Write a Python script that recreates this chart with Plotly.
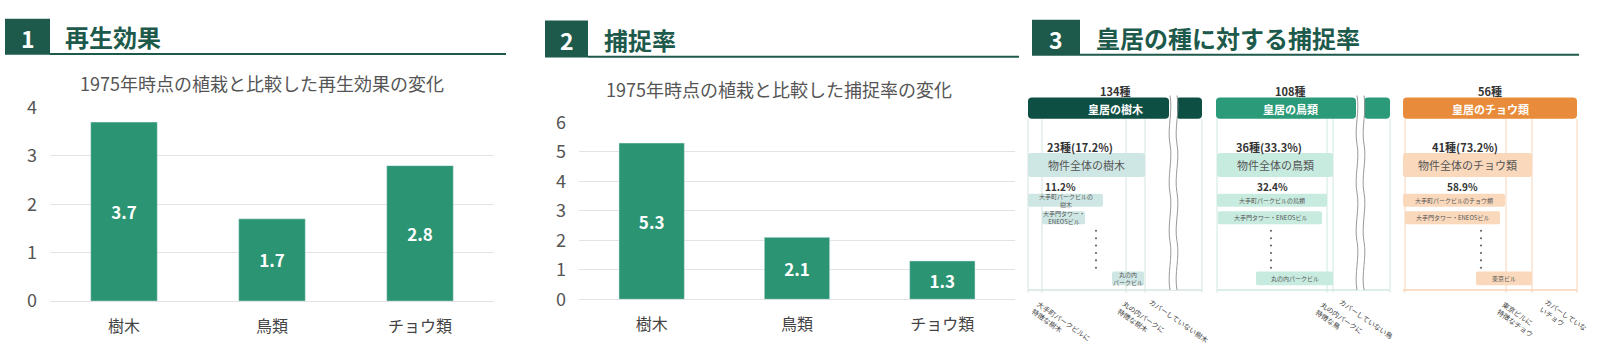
import plotly.graph_objects as go

# ---------------- data ----------------
categories = ["樹木", "鳥類", "チョウ類"]
regen_values = [3.7, 1.7, 2.8]
capture_values = [5.3, 2.1, 1.3]
regen_ticks = [0, 1, 2, 3, 4]
capture_ticks = [0, 1, 2, 3, 4, 5, 6]

panel_numbers = ["1", "2", "3"]
panel_titles = ["再生効果", "捕捉率", "皇居の種に対する捕捉率"]
subtitles = ["1975年時点の植栽と比較した再生効果の変化",
             "1975年時点の植栽と比較した捕捉率の変化"]

# infographic (panel 3) texts
group_names = ["皇居の樹木", "皇居の鳥類", "皇居のチョウ類"]
group_totals = ["134種", "108種", "56種"]
covered_counts = ["23種(17.2%)", "36種(33.3%)", "41種(73.2%)"]
overall_labels = ["物件全体の樹木", "物件全体の鳥類", "物件全体のチョウ類"]
best_building_pct = ["11.2%", "32.4%", "58.9%"]
row1_labels = ["大手町パークビルの<br>樹木", "大手町パークビルの鳥類", "大手町パークビルのチョウ類"]
row2_labels = ["大手門タワー・<br>ENEOSビル", "大手門タワー・ENEOSビル", "大手門タワー・ENEOSビル"]
row3_labels = ["丸の内<br>パークビル", "丸の内パークビル", "東京ビル"]
bottom_labels = [
    ["大手町パークビルに<br>特徴な樹木", "丸の内パークに<br>特徴な樹木", "カバーしていない樹木"],
    ["丸の内パークに<br>特徴な鳥", "カバーしていない鳥"],
    ["東京ビルに<br>特徴なチョウ", "カバーしていな<br>いチョウ"],
]

# ---------------- layout helpers ----------------
W, H = 1597, 351
FONT = "Noto Sans CJK JP"
BAR = "#2a9473"
DARK = "#1d5a4b"


def px(x):
    return x / W


def py(y):
    return 1 - y / H


def rrect_path(x0, y0, x1, y1, r):
    pts = [("M", x0 + r, y0), ("L", x1 - r, y0), ("Q", x1, y0, x1, y0 + r),
           ("L", x1, y1 - r), ("Q", x1, y1, x1 - r, y1), ("L", x0 + r, y1),
           ("Q", x0, y1, x0, y1 - r), ("L", x0, y0 + r), ("Q", x0, y0, x0 + r, y0)]
    s = ""
    for p in pts:
        cmd = p[0]
        coords = p[1:]
        parts = []
        for i in range(0, len(coords), 2):
            parts.append(f"{px(coords[i]):.5f},{py(coords[i+1]):.5f}")
        s += cmd + " ".join(parts) + " "
    return s + "Z"


shapes = []
annotations = []


def rbox(x0, y0, x1, y1, color, r=3):
    shapes.append(dict(type="path", xref="paper", yref="paper",
                       path=rrect_path(x0, y0, x1, y1, r),
                       fillcolor=color, line=dict(width=0), layer="above"))


def vline(x, y0, y1, color, width=1):
    shapes.append(dict(type="line", xref="paper", yref="paper",
                       x0=px(x), x1=px(x), y0=py(y0), y1=py(y1),
                       line=dict(color=color, width=width), layer="below"))


def hline(x0, x1, y, color, width=1, layer="above"):
    shapes.append(dict(type="line", xref="paper", yref="paper",
                       x0=px(x0), x1=px(x1), y0=py(y), y1=py(y),
                       line=dict(color=color, width=width), layer=layer))


def text(x, y, s, size, color, xanchor="center", yanchor="middle", weight="normal", angle=0, align="center"):
    annotations.append(dict(xref="paper", yref="paper", x=px(x), y=py(y), text=s,
                            showarrow=False, xanchor=xanchor, yanchor=yanchor,
                            textangle=angle, align=align,
                            font=dict(family=FONT, size=size, color=color, weight=weight)))


def wavy(x, y0, y1, color):
    n = 4
    step = (y1 - y0) / n
    s = f"M{px(x):.5f},{py(y0):.5f} "
    for i in range(n):
        ya = y0 + i * step
        s += (f"C{px(x + 3):.5f},{py(ya + step * 0.33):.5f} "
              f"{px(x - 3):.5f},{py(ya + step * 0.66):.5f} "
              f"{px(x):.5f},{py(ya + step):.5f} ")
    shapes.append(dict(type="path", xref="paper", yref="paper", path=s,
                       line=dict(color=color, width=1), layer="above"))


# ---------------- panel headers ----------------
headers = [  # box x0,x1,y0,y1, title x, underline end
    (5, 50, 4, 43, 63, 506),
    (545, 588, 6, 46, 602, 1019),
    (1032, 1080, 5, 44, 1094, 1579),
]
for (bx0, bx1, by0, by1, tx, ux1), num, title in zip(headers, panel_numbers, panel_titles):
    shapes.append(dict(type="rect", xref="paper", yref="paper", x0=px(bx0), x1=px(bx1),
                       y0=py(by1), y1=py(by0), fillcolor=DARK, line=dict(width=0)))
    hline(bx1, ux1, by1 - 1, DARK, width=2)
    text((bx0 + bx1) / 2, (by0 + by1) / 2 + 1, num, 23, "white", weight="bold")
    text(tx, (by0 + by1) / 2, title, 24, DARK, xanchor="left", weight="bold")

text(262, 73, subtitles[0], 18, "#555555")
text(779, 80, subtitles[1], 18, "#555555")

# ---------------- bar charts ----------------
fig = go.Figure()
fig.add_trace(go.Bar(x=categories, y=regen_values, marker_color=BAR, width=0.45,
                     text=[f"{v:.1f}" for v in regen_values], textposition="inside",
                     insidetextanchor="middle",
                     textfont=dict(family=FONT, size=17, color="white", weight="bold"),
                     xaxis="x", yaxis="y", showlegend=False, hoverinfo="skip"))
fig.add_trace(go.Bar(x=categories, y=capture_values, marker_color=BAR, width=0.45,
                     text=[f"{v:.1f}" for v in capture_values], textposition="inside",
                     insidetextanchor="middle",
                     textfont=dict(family=FONT, size=17, color="white", weight="bold"),
                     xaxis="x2", yaxis="y2", showlegend=False, hoverinfo="skip"))

xcommon = dict(showgrid=False, showline=False, zeroline=False, ticks="",
               tickfont=dict(family=FONT, size=16, color="#444444"), ticklabelstandoff=14)
ycommon = dict(showgrid=True, gridcolor="#e3e3e3", gridwidth=1, zeroline=True,
               zerolinecolor="#e3e3e3", zerolinewidth=1, showline=False, ticks="",
               tickfont=dict(family=FONT, size=18, color="#555555"), ticklabelstandoff=12)

# ---------------- infographic (panel 3) ----------------
group_layout = [
    dict(x0=1028, x1=1202, break_at=1170, header_main=(1028, 1169), header_tail=(1176, 1202),
         head_color="#0e4f44", light="#cfe7e4", grid="#d3e5e1",
         vlines=[1028, 1042, 1126, 1145, 1202],
         title_x=1115, cov_x=1080, overall=(1028, 1145), pct_x=1060,
         row1=(1028, 1103), row2=(1042, 1085), row3=(1112, 1144), dots_x=1096,
         labels=[(1027, 303), (1113, 303), (1145, 301)]),
    dict(x0=1217, x1=1390, break_at=1357, header_main=(1216, 1356), header_tail=(1364, 1390),
         head_color="#2a9a78", light="#c8ebe0", grid="#cfe8e1",
         vlines=[1217, 1327, 1333, 1390],
         title_x=1290, cov_x=1269, overall=(1217, 1333), pct_x=1272,
         row1=(1217, 1327), row2=(1218, 1322), row3=(1256, 1333), dots_x=1271,
         labels=[(1311, 304), (1335, 301)]),
    dict(x0=1403, x1=1577, break_at=None, header_main=(1403, 1577), header_tail=None,
         head_color="#e88b3a", light="#f9d8bc", grid="#f7d3b6",
         vlines=[1405, 1506, 1532, 1577],
         title_x=1490, cov_x=1465, overall=(1403, 1532), pct_x=1462,
         row1=(1403, 1505), row2=(1405, 1500), row3=(1476, 1532), dots_x=1481,
         labels=[(1493, 304), (1535, 301)]),
]

HEAD_Y0, HEAD_Y1 = 89, 112
BASE_Y = 297
for i, g in enumerate(group_layout):
    for x in g["vlines"]:
        vline(x, HEAD_Y1, BASE_Y + 3, g["grid"])
    hline(g["x0"], g["x1"], BASE_Y, g["grid"], width=1.5, layer="below")
    rbox(g["header_main"][0], HEAD_Y0, g["header_main"][1], HEAD_Y1, g["head_color"], r=4)
    if g["header_tail"]:
        rbox(g["header_tail"][0], HEAD_Y0, g["header_tail"][1], HEAD_Y1, g["head_color"], r=4)
    text(g["title_x"], 82, group_totals[i], 11, "#333333", weight="bold")
    text(g["title_x"], (HEAD_Y0 + HEAD_Y1) / 2 + 1, group_names[i], 11, "white", weight="bold")
    text(g["cov_x"], 143, covered_counts[i], 11, "#333333", weight="bold")
    rbox(g["overall"][0], 149, g["overall"][1], 175, g["light"], r=3)
    text((g["overall"][0] + g["overall"][1]) / 2, 162, overall_labels[i], 11, "#555555")
    text(g["pct_x"], 185, best_building_pct[i], 10, "#333333", weight="bold")
    rbox(g["row1"][0], 193, g["row1"][1], 207, g["light"], r=2)
    text((g["row1"][0] + g["row1"][1]) / 2, 200, row1_labels[i], 6, "#555555")
    rbox(g["row2"][0], 212, g["row2"][1], 226, g["light"], r=2)
    text((g["row2"][0] + g["row2"][1]) / 2, 219, row2_labels[i], 6, "#555555")
    rbox(g["row3"][0], 277, g["row3"][1], 292, g["light"], r=2)
    text((g["row3"][0] + g["row3"][1]) / 2, 284.5, row3_labels[i], 6, "#555555")
    for k in range(6):
        yy = 233 + k * 8
        r = 1.1
        shapes.append(dict(type="circle", xref="paper", yref="paper",
                           x0=px(g["dots_x"] - r), x1=px(g["dots_x"] + r),
                           y0=py(yy + r), y1=py(yy - r), fillcolor="#666666",
                           line=dict(width=0)))
    if g["break_at"]:
        shapes.append(dict(type="rect", xref="paper", yref="paper",
                           x0=px(g["break_at"]), x1=px(g["break_at"] + 7),
                           y0=py(BASE_Y), y1=py(HEAD_Y0 - 2), fillcolor="white",
                           line=dict(width=0), layer="above"))
        wavy(g["break_at"], HEAD_Y0 - 2, BASE_Y, "#999999")
        wavy(g["break_at"] + 7, HEAD_Y0 - 2, BASE_Y, "#999999")
    for lab, (lx, ly) in zip(bottom_labels[i], g["labels"]):
        text(lx, ly, lab, 7, "#444444", xanchor="left", yanchor="top", angle=35, align="left")

fig.update_layout(
    width=W, height=H, margin=dict(l=0, r=0, t=0, b=0),
    paper_bgcolor="white", plot_bgcolor="white", bargap=0.55,
    xaxis=dict(domain=[px(50), px(494)], anchor="y", **xcommon),
    yaxis=dict(domain=[py(309), py(100)], range=[0, 4], tickvals=regen_ticks,
               anchor="x", **ycommon),
    xaxis2=dict(domain=[px(579), px(1015)], anchor="y2", **xcommon),
    yaxis2=dict(domain=[py(307), py(116)], range=[0, 6], tickvals=capture_ticks,
                anchor="x2", **ycommon),
    shapes=shapes, annotations=annotations,
)

fig.write_html("out.html")
